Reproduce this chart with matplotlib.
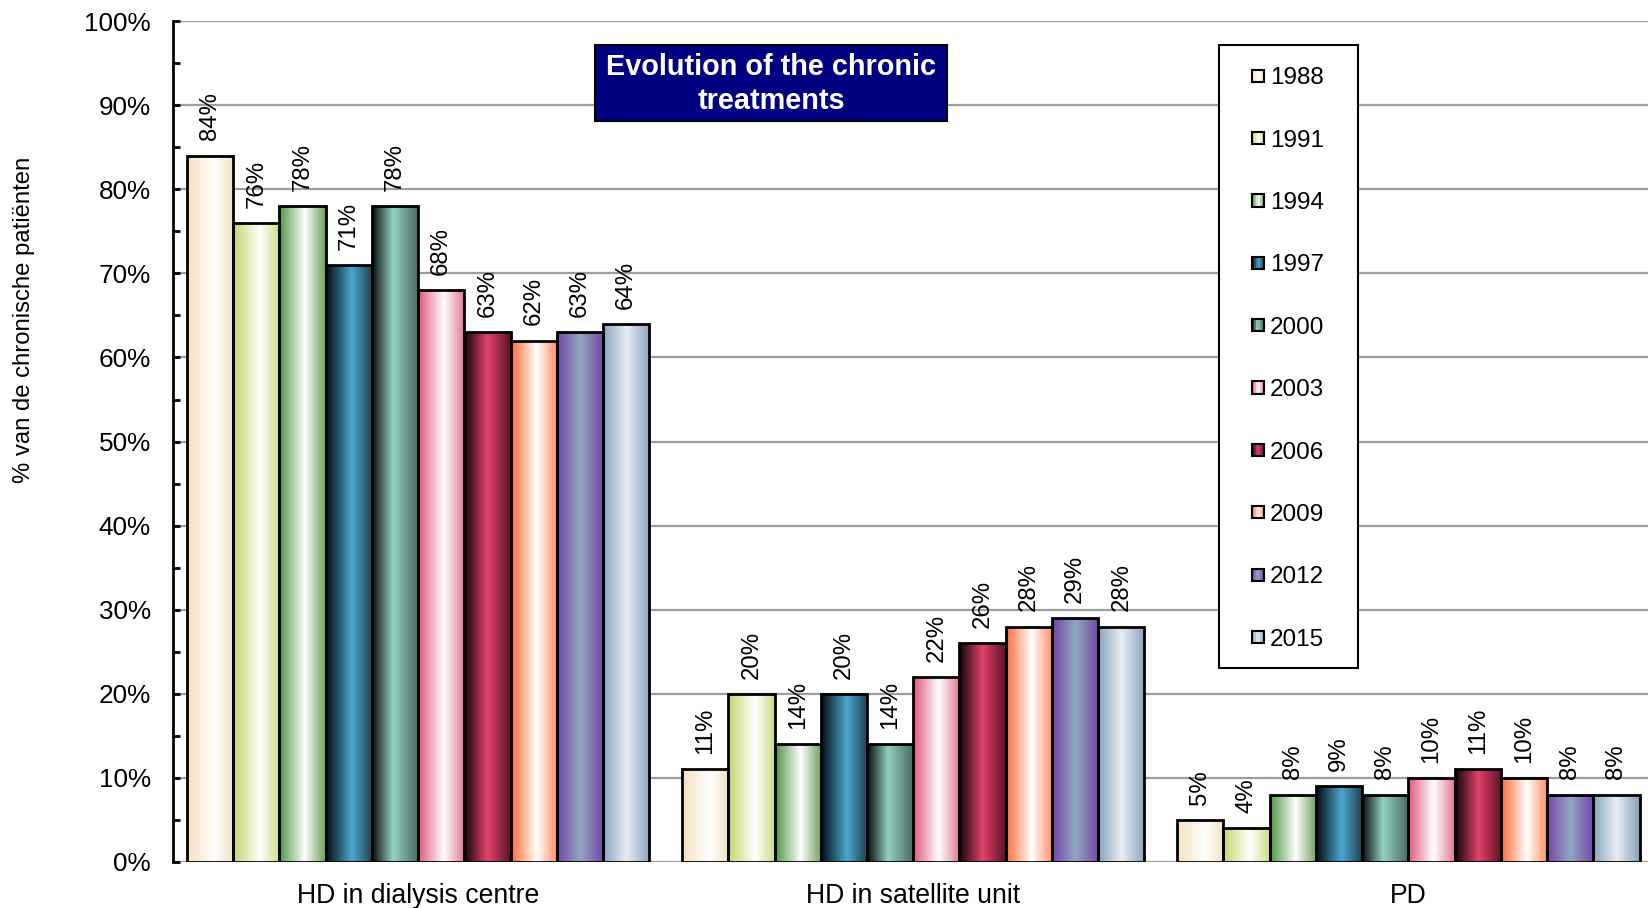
import numpy as np
import matplotlib
matplotlib.use("Agg")
import matplotlib.pyplot as plt
from matplotlib.colors import LinearSegmentedColormap
from matplotlib.patches import Rectangle
from matplotlib.legend_handler import HandlerBase

plt.rcParams['font.family'] = ['Liberation Sans', 'DejaVu Sans']

categories = ['HD in dialysis centre', 'HD in satellite unit', 'PD']
years = ['1988', '1991', '1994', '1997', '2000', '2003', '2006', '2009', '2012', '2015']
values = [
    [84, 11, 5],   # 1988
    [76, 20, 4],   # 1991
    [78, 14, 8],   # 1994
    [71, 20, 9],   # 1997
    [78, 14, 8],   # 2000
    [68, 22, 10],  # 2003
    [63, 26, 11],  # 2006
    [62, 28, 10],  # 2009
    [63, 29, 8],   # 2012
    [64, 28, 8],   # 2015
]

# horizontal colour ramps (left, middle, right) for each year
ramps = [
    ('#f5e2c0', '#ffffff', '#f3e0bc'),
    ('#c2d66a', '#ffffff', '#cadd82'),
    ('#4f9444', '#ffffff', '#6a9e5c'),
    ('#050a10', '#4aa8d0', '#223c4a'),
    ('#050808', '#92d2c2', '#4a6660'),
    ('#e0567a', '#ffffff', '#e2768e'),
    ('#100408', '#e2426a', '#5a1424'),
    ('#ff6a36', '#ffffff', '#ff8c62'),
    ('#7444a8', '#90a8c0', '#7444a8'),
    ('#8aa2bc', '#e8eef2', '#8aa2bc'),
]
mid_pos = [0.6, 0.58, 0.55, 0.55, 0.45, 0.55, 0.5, 0.55, 0.5, 0.5]


def make_cmap(i):
    left, mid, right = ramps[i]
    return LinearSegmentedColormap.from_list(
        'ramp%d' % i, [(0, left), (mid_pos[i], mid), (1, right)])


cmaps = [make_cmap(i) for i in range(len(years))]
grad = np.linspace(0, 1, 256).reshape(1, -1)

fig = plt.figure(figsize=(16.48, 9.08), dpi=100)
ax = fig.add_axes([0.105, 0.0507, 0.895, 0.926])

x = np.arange(len(categories))
n = len(years)
w = 0.0934

for i, year in enumerate(years):
    pos = x + (i - (n - 1) / 2) * w
    bars = ax.bar(pos, values[i], w, facecolor='none', edgecolor='black',
                  linewidth=2, zorder=4)
    for b, v in zip(bars, values[i]):
        bx, bw, bh = b.get_x(), b.get_width(), b.get_height()
        im = ax.imshow(grad, cmap=cmaps[i], aspect='auto', interpolation='bilinear',
                       extent=(bx, bx + bw, 0, bh), zorder=3)
        im.set_clip_path(b)
        ax.annotate('%d%%' % v, (b.get_x() + bw / 2, bh), xytext=(0, 11),
                    textcoords='offset points', rotation=90, ha='center',
                    va='bottom', fontsize=17.3, zorder=5)

ax.set_xlim(-0.495, 2.484)
ax.set_ylim(0, 100)
ax.set_yticks(np.arange(0, 101, 10))
ax.set_yticklabels(['%d%%' % t for t in range(0, 101, 10)])
ax.set_yticks(np.arange(5, 100, 10), minor=True)
ax.set_xticks(x)
ax.set_xticklabels(categories)
ax.tick_params(axis='y', which='both', direction='in', length=5, width=2,
               labelsize=18.8, pad=16)
ax.tick_params(axis='x', length=0, labelsize=19.2, pad=15)
ax.yaxis.grid(True, color='#9c9c9c', linewidth=1.6, zorder=0)
ax.set_axisbelow(True)
for side in ('top', 'right', 'bottom'):
    ax.spines[side].set_visible(False)
ax.spines['left'].set_linewidth(2)

fig.text(0.0145, 0.648, '% van de chronische patiënten', rotation=90,
         ha='center', va='center', fontsize=17.2)

# title block
fig.patches.append(Rectangle((595 / 1648, 1 - 121 / 908), 352 / 1648, 76 / 908,
                             transform=fig.transFigure, facecolor='#000080',
                             edgecolor='black', linewidth=1.5, zorder=6))
fig.text(771 / 1648, 1 - 84 / 908, 'Evolution of the chronic\ntreatments',
         color='white', fontsize=20.8, fontweight='bold', ha='center',
         va='center', linespacing=1.3, zorder=7)


class GradientSquare(HandlerBase):
    def create_artists(self, legend, orig_handle, xdescent, ydescent,
                       width, height, fontsize, trans):
        cm = orig_handle
        side = min(width, height)
        x0 = -xdescent + (width - side) / 2
        y0 = -ydescent + (height - side) / 2
        arts = []
        k = 6
        for j in range(k):
            c = cm((j + 0.5) / k)
            arts.append(Rectangle((x0 + j * side / k, y0), side / k, side,
                                  facecolor=c, edgecolor='none', transform=trans))
        arts.append(Rectangle((x0, y0), side, side, facecolor='none',
                              edgecolor='black', linewidth=1.5, transform=trans))
        return arts


leg = fig.legend(cmaps, years, handler_map={LinearSegmentedColormap: GradientSquare()},
                 loc='center', bbox_to_anchor=(1288 / 1648, 1 - 359 / 908),
                 frameon=False, fontsize=17.5, labelspacing=1.66,
                 handlelength=0.5, handleheight=0.5, handletextpad=0.25)
fig.patches.append(Rectangle((1219 / 1648, 1 - 668 / 908), 139 / 1648, 623 / 908,
                             transform=fig.transFigure, facecolor='white',
                             edgecolor='black', linewidth=1.5, zorder=1))

fig.savefig('out.png', dpi=100)
